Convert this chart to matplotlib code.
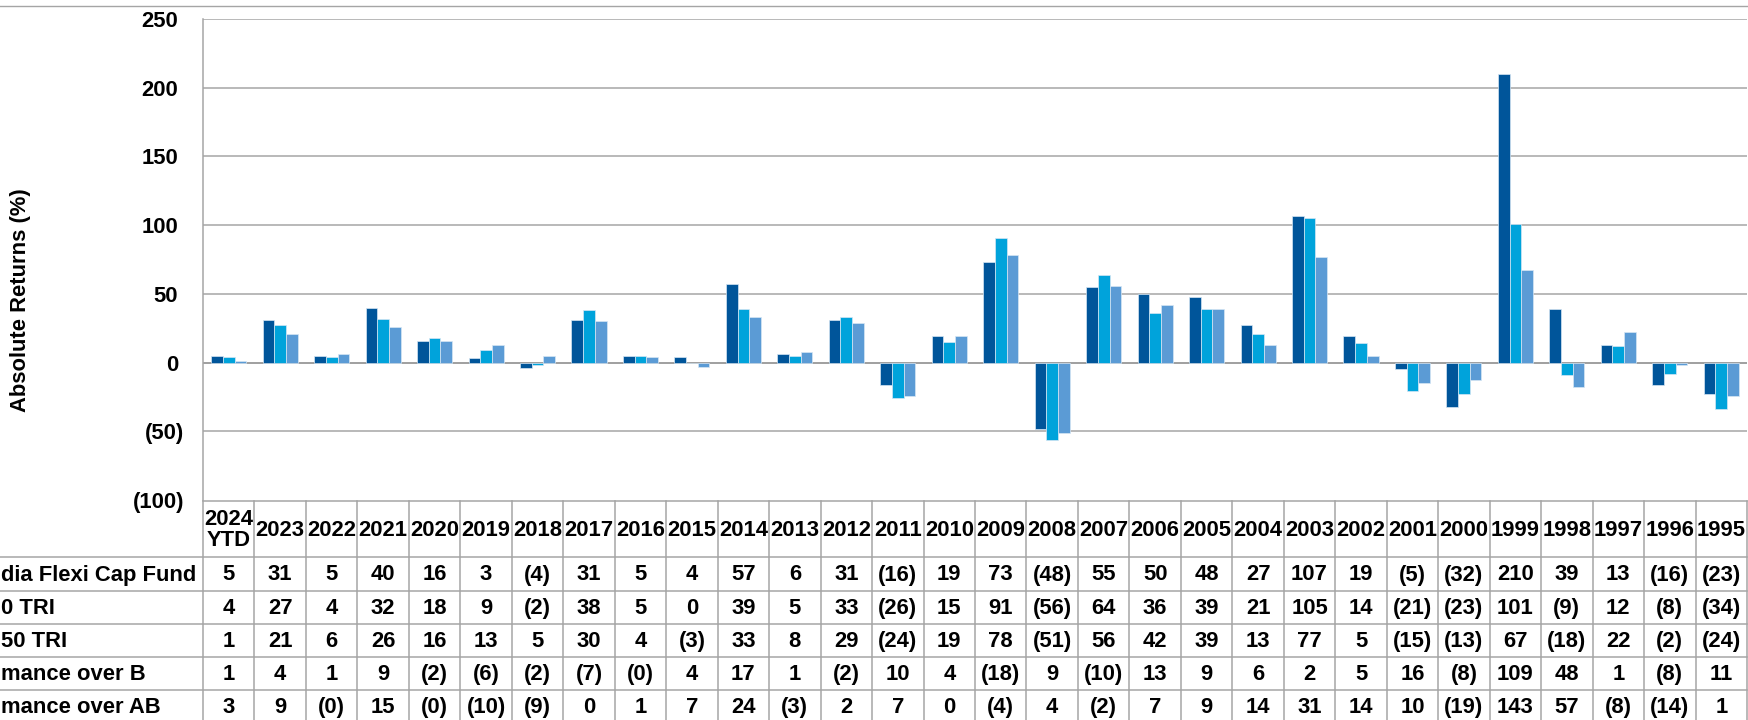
import numpy as np
import matplotlib
matplotlib.use("Agg")
import matplotlib.pyplot as plt
from matplotlib.transforms import ScaledTranslation

plt.rcParams['font.family'] = ['Liberation Sans', 'DejaVu Sans']
plt.rcParams['font.weight'] = 'bold'

# Calendar year returns (%)
years = ["2024\nYTD", "2023", "2022", "2021", "2020", "2019", "2018", "2017", "2016", "2015",
         "2014", "2013", "2012", "2011", "2010", "2009", "2008", "2007", "2006", "2005",
         "2004", "2003", "2002", "2001", "2000", "1999", "1998", "1997", "1996", "1995"]
fund = [5, 31, 5, 40, 16, 3, -4, 31, 5, 4, 57, 6, 31, -16, 19,
        73, -48, 55, 50, 48, 27, 107, 19, -5, -32, 210, 39, 13, -16, -23]
bench = [4, 27, 4, 32, 18, 9, -2, 38, 5, 0, 39, 5, 33, -26, 15,
         91, -56, 64, 36, 39, 21, 105, 14, -21, -23, 101, -9, 12, -8, -34]
add_bench = [1, 21, 6, 26, 16, 13, 5, 30, 4, -3, 33, 8, 29, -24, 19,
             78, -51, 56, 42, 39, 13, 77, 5, -15, -13, 67, -18, 22, -2, -24]
# -0.0 keeps the small negative differences that round to (0)
over_b = [1, 4, 1, 9, -2, -6, -2, -7, -0.0, 4, 17, 1, -2, 10, 4,
          -18, 9, -10, 13, 9, 6, 2, 5, 16, -8, 109, 48, 1, -8, 11]
over_ab = [3, 9, -0.0, 15, -0.0, -10, -9, 0, 1, 7, 24, -3, 2, 7, 0,
           -4, 4, -2, 7, 9, 14, 31, 14, 10, -19, 143, 57, -8, -14, 1]

row_names = ["dia Flexi Cap Fund", "0 TRI", "50 TRI", "mance over B", "mance over AB"]
rows = [fund, bench, add_bench, over_b, over_ab]
colors = ["#00559A", "#00A3DB", "#5B9BD5"]

yticks = [-100, -50, 0, 50, 100, 150, 200, 250]


def fmt(v):
    if np.signbit(v):
        return "(%d)" % abs(v)
    return "%d" % v


W, H = 1749, 720
fig = plt.figure(figsize=(W / 100, H / 100), dpi=100)

# pixel layout
x0, x1 = 203, 1747
y_top, y_bot = 19, 500
ncol = len(years)
fs = 15.8
grid_c = "#a5a5a5"

ax = fig.add_axes([x0 / W, (H - y_bot) / H, (x1 - x0) / W, (y_bot - y_top) / H])
x = np.arange(ncol)
bw = 0.227
for i, (vals, c) in enumerate(zip([fund, bench, add_bench], colors)):
    ax.bar(x + (i - 1) * bw, vals, width=bw, color=c, edgecolor="#d6e6f4",
           linewidth=0.5, zorder=3)

ax.set_xlim(-0.5, ncol - 0.5)
ax.set_ylim(-100, 250)
ax.set_yticks(yticks)
ax.set_yticklabels([fmt(v) for v in yticks])
ax.set_xticks([])
ax.tick_params(axis='y', length=0, pad=13.5, labelsize=fs)
for lab, v in zip(ax.get_yticklabels(), yticks):
    lab.set_fontweight('bold')
    if v >= 0:
        lab.set_transform(lab.get_transform() + ScaledTranslation(-6 / 100, 0, fig.dpi_scale_trans))
for v in yticks[1:]:
    ax.axhline(v, color="#8f8f8f" if v == 0 else grid_c, lw=1.2 if v == 0 else 1.1, zorder=1)
for s in ["top", "right", "bottom"]:
    ax.spines[s].set_visible(False)
ax.spines["left"].set_color(grid_c)
ax.spines["left"].set_linewidth(1.1)

fig.text(21 / W, 1 - 300 / H, "Absolute Returns (%)", rotation=90, ha='center', va='center',
         fontsize=fs, fontweight='bold')

# data table under the bars, y in pixels from the top of the figure
tab = fig.add_axes([x0 / W, 0, (x1 - x0) / W, 1])
tab.set_xlim(-0.5, ncol - 0.5)
tab.set_ylim(H, 0)
tab.axis('off')

col_px = (x1 - x0) / ncol
left_edge = -0.5 - x0 / col_px
row_lines = [501, 557, 591, 624, 657, 690, 723]

tab.plot([-0.5, ncol - 0.5], [row_lines[0]] * 2, color=grid_c, lw=1.1, clip_on=False)
for yl in row_lines[1:-1]:
    tab.plot([left_edge, ncol - 0.5], [yl, yl], color=grid_c, lw=1.1, clip_on=False)
for k in range(ncol + 1):
    tab.plot([k - 0.5, k - 0.5], [row_lines[0], row_lines[-1]], color=grid_c, lw=1.1, clip_on=False)

hdr_y = (row_lines[0] + row_lines[1]) / 2 + 1
for k, yr in enumerate(years):
    tab.text(k, hdr_y, yr, ha='center', va='center', fontsize=fs, fontweight='bold',
             linespacing=1.05)

for r, (vals, name) in enumerate(zip(rows, row_names)):
    yc = (row_lines[r + 1] + row_lines[r + 2]) / 2 + 1
    for k, v in enumerate(vals):
        tab.text(k, yc, fmt(v), ha='center', va='center', fontsize=fs, fontweight='bold')
    tab.text(left_edge + 1 / col_px, yc, name, ha='left', va='center',
             fontsize=fs, fontweight='bold', clip_on=False)

# thin rule along the top of the chart area
fig.add_artist(plt.Line2D([0, 1], [1 - 6 / H, 1 - 6 / H], color=grid_c, lw=1.0))

fig.savefig("out.png", dpi=100)
